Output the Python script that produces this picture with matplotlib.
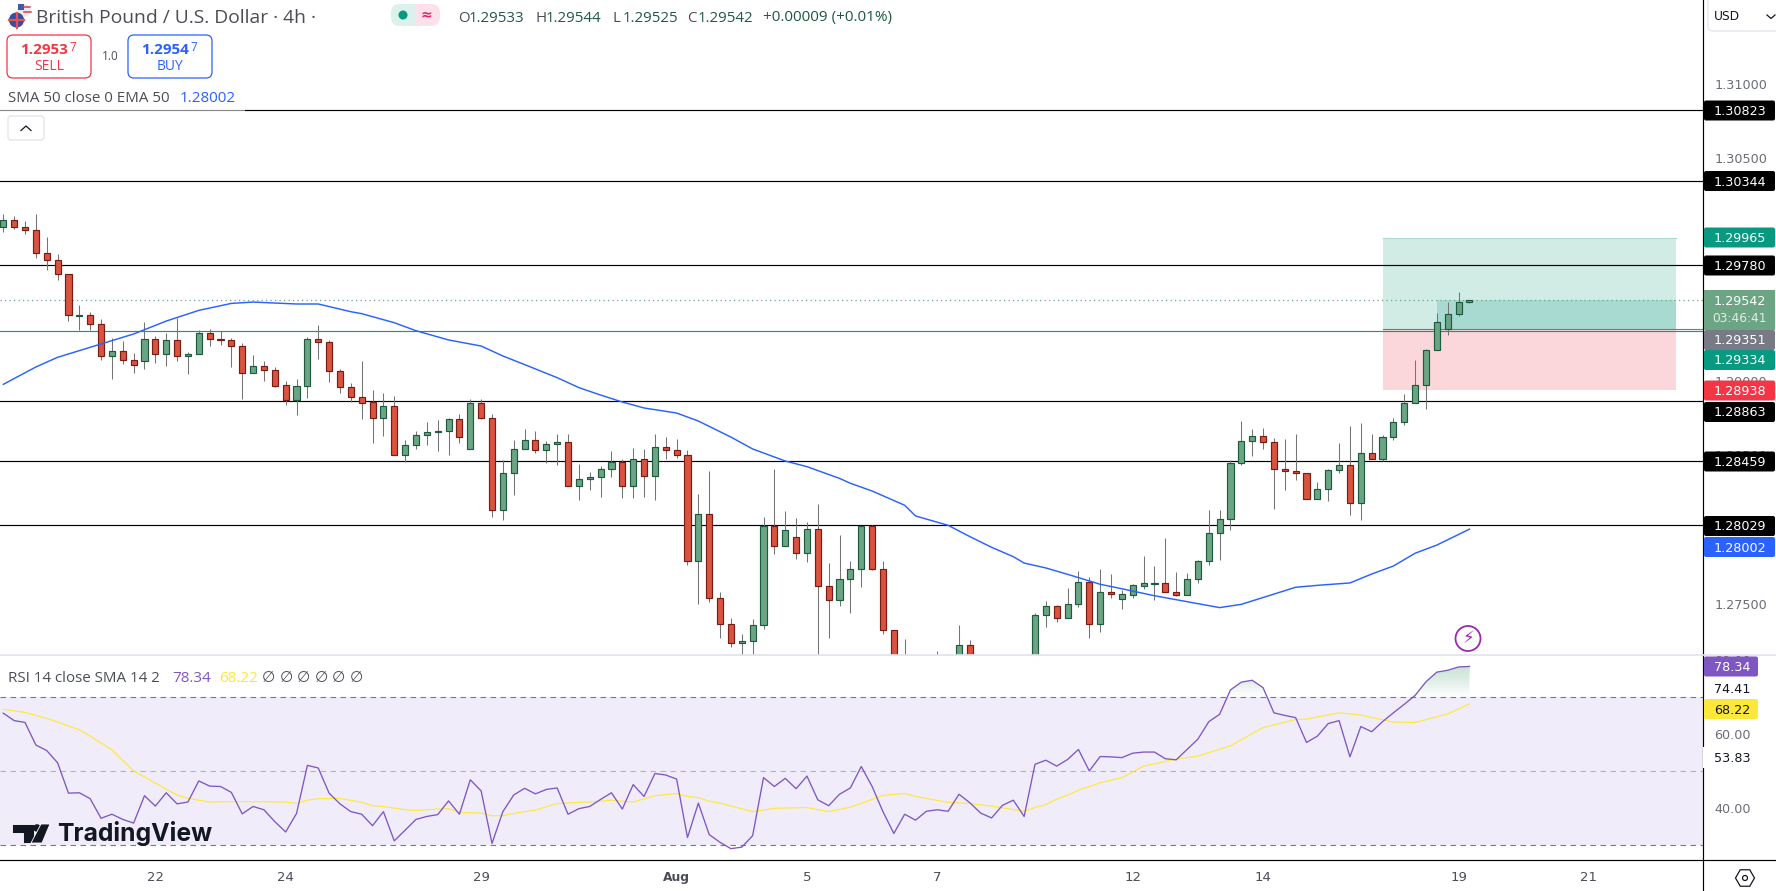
import numpy as np
import matplotlib
matplotlib.use('Agg')
import matplotlib.pyplot as plt
from matplotlib.patches import FancyBboxPatch, Circle, Polygon, RegularPolygon, Rectangle, Ellipse

# candles, in 1e-5 of a dollar (bars hidden below the pane are estimates)
candle_open = [130039, 130086, 130034, 130014, 129859, 129812, 129718, 129439, 129442, 129381, 129166, 129199, 129139, 129132, 129280, 129179, 129273, 129166, 129179, 129320,
               129282, 129273, 129233, 129051, 129098, 129071, 128970, 128869, 128964, 129280, 129260, 129065, 128957, 128890, 128856, 128748, 128829, 128499, 128566, 128634,
               128654, 128661, 128741, 128540, 128849, 128748, 128129, 128378, 128540, 128600, 128533, 128573, 128587, 128290, 128338, 128351, 128405, 128452, 128290, 128472,
               128358, 128553, 128533, 128499, 127786, 128102, 127536, 127361, 127234, 127247, 127355, 128023, 127887, 127947, 127839, 128001, 127617, 127523, 127664, 127732,
               128023, 127732, 127321, 127050, 126950, 127040, 126960, 127090, 127000, 127220, 127000, 126930, 126870, 126970, 127030, 126900, 127422, 127483, 127402, 127496,
               127644, 127366, 127577, 127534, 127561, 127622, 127636, 127638, 127577, 127561, 127665, 127786, 127974, 128068, 128445, 128593, 128627, 128587, 128405, 128391,
               128378, 128203, 128270, 128398, 128432, 128176, 128513, 128472, 128620, 128721, 128849, 128970, 129206, 129347, 129448, 129533]
candle_high = [130124, 130108, 130077, 130124, 129969, 129855, 129718, 129511, 129462, 129417, 129289, 129269, 129188, 129394, 129300, 129320, 129421, 129193, 129341, 129347,
               129334, 129289, 129253, 129172, 129132, 129092, 129000, 129011, 129293, 129377, 129273, 129078, 128984, 129132, 128939, 128917, 128899, 128602, 128661, 128721,
               128737, 128748, 128775, 128876, 128876, 128775, 128466, 128600, 128674, 128661, 128593, 128641, 128641, 128439, 128385, 128425, 128526, 128472, 128546, 128540,
               128641, 128620, 128607, 128533, 128237, 128391, 127577, 127404, 127294, 127395, 128082, 128405, 128124, 128077, 128048, 128172, 127774, 127963, 127788, 128023,
               128030, 127788, 127321, 127260, 127100, 127120, 127184, 127162, 127357, 127256, 127090, 127000, 127010, 127100, 127110, 127440, 127519, 127489, 127606, 127721,
               127680, 127734, 127700, 127595, 127631, 127821, 127754, 127943, 127714, 127707, 127794, 128131, 128131, 128466, 128730, 128676, 128683, 128616, 128609, 128643,
               128378, 128317, 128405, 128582, 128694, 128717, 128643, 128636, 128750, 128912, 129141, 129215, 129455, 129531, 129599, 129544]
candle_low = [130005, 130025, 129991, 129830, 129749, 129682, 129406, 129345, 129345, 129143, 129015, 129116, 129056, 129083, 129123, 129103, 129136, 129049, 129179, 129237,
              129244, 129096, 128881, 129051, 129002, 128957, 128840, 128771, 128887, 129150, 128995, 128921, 128860, 128746, 128584, 128632, 128499, 128457, 128544, 128571,
              128531, 128504, 128584, 128540, 128741, 128086, 128066, 128234, 128540, 128517, 128450, 128436, 128290, 128201, 128268, 128221, 128356, 128214, 128214, 128221,
              128201, 128477, 128484, 127763, 127501, 127514, 127272, 127211, 127032, 127121, 127332, 127837, 127887, 127804, 127783, 127076, 127272, 127487, 127440, 127615,
              127725, 127296, 126950, 126900, 126900, 126900, 126900, 126920, 126950, 126970, 126880, 126820, 126830, 126900, 126880, 126870, 127346, 127380, 127402, 127480,
              127267, 127312, 127541, 127465, 127541, 127601, 127527, 127577, 127554, 127561, 127642, 127763, 127795, 127997, 128436, 128497, 128544, 128140, 128268, 128335,
              128203, 128203, 128194, 128382, 128100, 128064, 128472, 128459, 128605, 128706, 128849, 128813, 129206, 129311, 129439, 129525]
candle_close = [130086, 130034, 130014, 129859, 129812, 129718, 129442, 129442, 129381, 129166, 129199, 129139, 129105, 129280, 129179, 129273, 129166, 129179, 129320, 129280,
                129278, 129233, 129051, 129098, 129071, 128968, 128869, 128964, 129280, 129260, 129065, 128957, 128890, 128854, 128748, 128829, 128499, 128566, 128634, 128654,
                128661, 128741, 128620, 128849, 128748, 128129, 128378, 128540, 128600, 128533, 128573, 128587, 128290, 128338, 128351, 128405, 128452, 128290, 128472, 128358,
                128553, 128533, 128499, 127786, 128102, 127536, 127361, 127234, 127247, 127355, 128023, 127887, 127994, 127839, 128001, 127617, 127523, 127664, 127732, 128023,
                127732, 127321, 127050, 126950, 127050, 126960, 127080, 127000, 127220, 127000, 126930, 126870, 126970, 127030, 126900, 127422, 127483, 127402, 127496, 127644,
                127366, 127577, 127568, 127564, 127624, 127638, 127638, 127577, 127561, 127665, 127786, 127974, 128068, 128445, 128593, 128627, 128587, 128405, 128391, 128378,
                128203, 128270, 128398, 128432, 128176, 128513, 128472, 128620, 128721, 128849, 128970, 129206, 129395, 129448, 129529, 129542]

# EMA 50, bar index and price
ema_bar = [0, 3, 5, 7, 9, 12, 15, 18, 21, 23, 27, 29, 32, 33, 36, 38, 41, 44, 46, 48, 51, 53, 55, 57, 59, 62, 64, 67, 69, 72, 74, 77, 78, 80, 83, 84, 87, 89, 91, 93, 94, 96, 98, 99, 101, 103,
           106, 109, 112, 114, 119, 121, 124, 126, 128, 130, 132, 135]
ema_value = [128977, 129094, 129159, 129204, 129249, 129316, 129403, 129475, 129522, 129531, 129518, 129518, 129466, 129453, 129392, 129338, 129276, 129235, 129168, 129110, 129022, 128955, 128905, 128858, 128818, 128784, 128730, 128622, 128542, 128461, 128423, 128344, 128311, 128259, 128163, 128091, 128028, 127952, 127880, 127817, 127774, 127741, 127698, 127676, 127631, 127601,
             127554, 127514, 127474, 127496, 127611, 127624, 127640, 127700, 127754, 127840, 127895, 128002]

rsi_value = [65.7, 63.7, 63.2, 57.1, 55.6, 52.3, 44.1, 44.2, 42.6, 37.3, 38.4, 37.0, 36.0, 43.4, 40.6, 44.2, 41.2, 41.7, 47.4, 46.0,
             45.9, 44.3, 38.5, 40.5, 39.6, 36.4, 33.6, 38.6, 51.6, 50.9, 44.1, 41.2, 39.1, 38.4, 35.3, 39.1, 31.2, 34.1, 37.0, 37.8,
             38.3, 42.0, 38.4, 47.7, 44.7, 30.5, 39.1, 43.6, 45.4, 43.9, 45.1, 45.5, 38.4, 39.9, 40.5, 42.4, 44.2, 39.8, 46.4, 43.2,
             49.4, 49.0, 47.9, 32.1, 41.4, 32.9, 30.8, 29.1, 29.5, 32.6, 48.3, 45.9, 48.1, 45.3, 48.7, 42.3, 40.7, 43.8, 45.5, 51.3,
             45.9, 39.1, 33.2, 38.4, 36.8, 39.2, 39.6, 39.2, 43.8, 41.5, 38.7, 37.4, 40.8, 42.2, 37.8, 51.9, 53.0, 51.4, 53.2, 55.9,
             50.1, 54.0, 53.9, 53.7, 54.9, 55.2, 55.2, 53.4, 53.1, 55.9, 58.7, 63.4, 65.4, 72.0, 74.1, 74.6, 72.6, 65.8, 65.1, 64.5,
             57.8, 59.5, 62.9, 63.7, 53.9, 62.1, 60.7, 63.4, 65.8, 68.1, 70.5, 74.2, 76.8, 77.3, 78.2, 78.34]

# RSI moving average, bar index and value
rsi_ma_bar = [0, 2, 4, 5, 7, 8, 10, 12, 14, 16, 17, 19, 21, 23, 26, 27, 28, 29, 31, 33, 34, 35, 37, 38, 40, 41, 42, 44, 45, 46, 47, 48, 49, 51, 53, 54, 56, 58, 60, 62, 63, 64, 65, 66, 69, 71, 74, 76, 78, 80, 81, 83, 84, 87, 89, 91, 94, 95, 96, 97, 98, 99, 101, 103, 105, 108, 110, 113, 116, 119, 120, 123, 125, 128, 130, 133, 135]
rsi_ma_value = [66.8, 65.9, 64.3, 63.3, 61.2, 59.5, 55.8, 50.1, 46.8, 43.6, 42.7, 41.7, 41.8, 41.8, 41.7, 41.3, 42.2, 42.6, 42.7, 41.6, 40.7, 40.5, 39.6, 39.4, 39.8, 39.9, 38.9, 38.7, 38.0, 38.0, 38.6, 39.1, 39.5, 41.3, 41.6, 41.7, 42.2, 41.7, 43.4, 44.0, 43.2, 42.9, 41.9, 41.4, 39.1, 40.0, 40.2, 39.1, 40.3, 42.4, 43.5, 44.0, 43.2, 41.6, 41.3, 40.6, 39.2, 40.2, 41.0, 42.5, 43.5, 44.9, 46.9, 48.3, 51.4, 53.3, 54.1, 56.9, 61.8, 64.0, 64.1, 65.8, 65.2, 63.3, 63.2, 65.5, 68.22]

level_prices = [1.30823, 1.30344, 1.29780, 1.28863, 1.28459, 1.28029]
last_price = 1.29542
entry_price = 1.29351
stop_price = 1.28938
target_price = 1.29965
support_line = 1.29334
rsi_levels = [70, 50, 30]
price_ticks = [1.275, 1.285, 1.29, 1.305, 1.31]
rsi_ticks = [40, 60, 80]
time_tick_bars = [14, 26, 44, 62, 74, 86, 104, 116, 134, 146]
time_tick_labels = ['22', '24', '29', 'Aug', '5', '7', '12', '14', '19', '21']
ohlc_parts = [('O', '1.29533'), ('H', '1.29544'), ('L', '1.29525'), ('C', '1.29542')]

GREEN = '#6ba584'
GREEN_EDGE = '#1d5a3e'
RED = '#d9533f'
RED_EDGE = '#7a1c14'
GREY = '#787b86'
TEXT = '#4a4d57'
W, H = 1776, 891


# Axes rectangle from pixel edges (y counted from the top)
def pixel_axes(left, top, right, bottom):
    return fig.add_axes([left / W, 1 - bottom / H, (right - left) / W, (bottom - top) / H])


fig = plt.figure(figsize=(W / 100, H / 100), dpi=100, facecolor='white')

# price pane
ax = pixel_axes(0, 0, 1703, 655)
ax.set_xlim(-0.304, 156.51)
ax.set_ylim(1.27155, 1.315645)

bars = np.arange(len(candle_open))
o = np.array(candle_open) / 1e5
h = np.array(candle_high) / 1e5
l = np.array(candle_low) / 1e5
c = np.array(candle_close) / 1e5
up = c >= o

for level in level_prices:
    ax.axhline(level, color='black', lw=0.85, zorder=2)
ax.axhline(last_price, color=GREEN, lw=0.9, ls=(0, (1, 2.6)), zorder=2)

# long position tool
ax.fill_between([127, 154], entry_price, target_price, color='#d1ebe5', lw=0, zorder=1)
ax.fill_between([127, 154], stop_price, entry_price, color='#fbd7db', lw=0, zorder=1)
ax.fill_between([132, 154], entry_price, last_price, color='#a8dad2', lw=0, zorder=1.1)
ax.plot([127, 154], [target_price, target_price], color='#a8dad2', lw=0.8, zorder=1.2)
ax.plot([127, 156.51], [entry_price, entry_price], color=GREY, lw=0.8, zorder=2.2)
ax.axhline(support_line, color='#26917c', lw=0.85, zorder=2.1)

ax.vlines(bars, l, h, color='#747474', lw=0.75, zorder=3)
ax.bar(bars[up], np.maximum((c - o)[up], 0.00003), bottom=o[up], width=0.56, color=GREEN, edgecolor=GREEN_EDGE, lw=0.85, zorder=4)
ax.bar(bars[~up], np.maximum((o - c)[~up], 0.00003), bottom=c[~up], width=0.56, color=RED, edgecolor=RED_EDGE, lw=0.85, zorder=4)
ax.plot(ema_bar, np.array(ema_value) / 1e5, color='#2962ff', lw=1.05, zorder=5)

ax.yaxis.tick_right()
ax.set_yticks(price_ticks)
ax.set_yticklabels(['{:.5f}'.format(t) for t in price_ticks], color='#6a6d78', fontsize=9.2)
ax.tick_params(axis='y', length=0, pad=8)
ax.set_xticks([])
for spine in ax.spines.values():
    spine.set_visible(False)

# RSI pane
rsi_ax = pixel_axes(0, 655, 1703, 860)
rsi_ax.set_xlim(-0.304, 156.51)
rsi_ax.set_ylim(26.03, 81.43)
rsi_ax.axhspan(30, 70, color='#f0ecf9', lw=0, zorder=0)
rsi_ax.axhline(rsi_levels[0], color=GREY, lw=0.8, ls=(0, (5, 4)), zorder=1)
rsi_ax.axhline(rsi_levels[1], color='#b5b3bd', lw=0.8, ls=(0, (5, 4)), zorder=1)
rsi_ax.axhline(rsi_levels[2], color=GREY, lw=0.8, ls=(0, (5, 4)), zorder=1)

rsi = np.array(rsi_value)
# overbought glow, layered so it fades out towards the 70 line
for floor in np.arange(70.5, 79, 1.0):
    rsi_ax.fill_between(bars, floor, rsi, where=rsi > floor, interpolate=True, color='#3c9f6e', alpha=0.035, lw=0, zorder=1.5)
rsi_ax.plot(rsi_ma_bar, rsi_ma_value, color='#ffe93b', lw=0.85, zorder=2)
rsi_ax.plot(bars, rsi, color='#7e57c2', lw=0.95, zorder=3)

rsi_ax.yaxis.tick_right()
rsi_ax.set_yticks(rsi_ticks)
rsi_ax.set_yticklabels(['{:.2f}'.format(t) for t in rsi_ticks], color='#6a6d78', fontsize=9.2)
rsi_ax.tick_params(axis='y', length=0, pad=8)
rsi_ax.set_xticks(time_tick_bars)
rsi_ax.set_xticklabels(time_tick_labels, color=TEXT, fontsize=9.5)
rsi_ax.tick_params(axis='x', length=0, pad=8)
rsi_ax.get_xticklabels()[3].set_fontweight('bold')
rsi_ax.get_xticklabels()[3].set_fontsize(8.8)
for spine in rsi_ax.spines.values():
    spine.set_visible(False)

# everything that sits on top of the chart, in screen pixels
ui = fig.add_axes([0, 0, 1, 1], zorder=10)
ui.set_xlim(0, W)
ui.set_ylim(H, 0)
ui.axis('off')

ui.plot([1703, 1703], [0, H], color='black', lw=0.85, zorder=1)
ui.plot([0, W], [860, 860], color='black', lw=0.85, zorder=1)
ui.plot([0, W], [655, 655], color='#e0e3eb', lw=1.2, zorder=1)


# coloured price tag on the axis
def price_tag(y, label, color, text_color='white', height=20, right=1775):
    box = FancyBboxPatch((1704, y - height / 2), right - 1704, height,
                         boxstyle='round,pad=0,rounding_size=2', fc=color, ec='none', zorder=3)
    ui.add_patch(box)
    ui.text(1739.5 if right == 1775 else 1732, y + 1, label, color=text_color, fontsize=9.2,
            ha='center', va='center', zorder=4, family='DejaVu Sans')


for y, label, color in [(110.5, '1.30823', 'black'), (181, '1.30344', 'black'), (237.5, '1.29965', '#089981'),
                        (265.5, '1.29780', 'black'), (340, '1.29351', GREY), (360, '1.29334', '#089981'),
                        (390.5, '1.28938', '#f23645'), (412, '1.28863', 'black'), (461.5, '1.28459', 'black'),
                        (526, '1.28029', 'black'), (547, '1.28002', '#2962ff')]:
    price_tag(y, label, color)

ui.add_patch(Rectangle((1704, 290), 71, 39.5, fc=GREEN, ec='none', zorder=3))
ui.text(1739.5, 301.5, '1.29542', color='white', fontsize=9.2, ha='center', va='center', zorder=4)
ui.text(1739.5, 319, '03:46:41', color='#dfeee6', fontsize=8.8, ha='center', va='center', zorder=4)

price_tag(666.5, '78.34', '#7e57c2', right=1758)
price_tag(709, '68.22', '#fde73a', text_color='#131722', right=1758)
ui.add_patch(Rectangle((1703, 747), 54, 21, fc='white', ec='none', zorder=2))
ui.text(1732, 758, '53.83', color='#131722', fontsize=9.2, ha='center', va='center', zorder=4)
ui.text(1732, 689.5, '74.41', color='#131722', fontsize=9.2, ha='center', va='center', zorder=4)

# currency button
ui.add_patch(FancyBboxPatch((1708, -4), 80, 35, boxstyle='round,pad=0,rounding_size=5', fc='white', ec='#e0e3eb', lw=0.9, zorder=3))
ui.text(1714, 16, 'USD', color='#131722', fontsize=8.8, va='center', zorder=4)
ui.plot([1767, 1771, 1775], [15, 18.5, 15], color='#131722', lw=0.9, zorder=4)

# settings icon
ui.add_patch(RegularPolygon((1745, 878), 6, radius=9.5, orientation=np.pi / 2, fc='none', ec='#131722', lw=0.9, zorder=4))
ui.add_patch(Circle((1745, 878), 2.5, fc='none', ec='#131722', lw=0.9, zorder=4))

# header: flag, title, market status
ui.add_patch(Circle((24, 10.5), 6.5, fc='#e8e8ee', ec='none', zorder=3))
ui.add_patch(Rectangle((18, 4), 6, 6, fc='#3d5aa8', ec='none', zorder=3))
ui.plot([24, 30], [7, 7], color='#d6404b', lw=1.1, zorder=4)
ui.plot([24, 30.5], [12, 12], color='#d6404b', lw=1.1, zorder=4)
ui.add_patch(Circle((16.5, 20), 8, fc='#34509e', ec='white', lw=0.6, zorder=4))
ui.plot([9, 24], [20, 20], color='#e8505b', lw=1.6, zorder=5)
ui.plot([16.5, 16.5], [12.5, 27.5], color='#e8505b', lw=1.6, zorder=5)

ui.text(36, 18, 'British Pound / U.S. Dollar · 4h ·', color=TEXT, fontsize=13.9, va='center', family='Open Sans')

ui.add_patch(FancyBboxPatch((391, 4), 24, 22, boxstyle='round,pad=0,rounding_size=9', fc='#daf1ec', ec='none', zorder=3))
ui.add_patch(FancyBboxPatch((416, 4), 24, 22, boxstyle='round,pad=0,rounding_size=9', fc='#fce1ea', ec='none', zorder=3))
ui.add_patch(Rectangle((405, 4), 10.5, 22, fc='#daf1ec', ec='none', zorder=3))
ui.add_patch(Rectangle((415.5, 4), 10.5, 22, fc='#fce1ea', ec='none', zorder=3))
ui.add_patch(Ellipse((403, 15), 9, 9, fc='#089981', ec='none', zorder=4))
ui.text(426, 14.5, '≈', color='#e91e63', fontsize=10, fontweight='bold', ha='center', va='center', zorder=4, family='DejaVu Sans')

# O H L C readout
for (letter, value), x in zip(ohlc_parts, [458, 535, 612, 687]):
    ui.text(x, 18, letter, color=TEXT, fontsize=10.8, va='center', family='Open Sans')
    ui.text(x + 11, 18, value, color=GREEN_EDGE, fontsize=10.8, va='center', family='Open Sans')
ui.text(763, 18, '+0.00009 (+0.01%)', color=GREEN_EDGE, fontsize=11, va='center', family='Open Sans')

# sell and buy buttons
for left, edge, price, tail, action in [(7, '#f23645', '1.2953', '7', 'SELL'), (128, '#2962ff', '1.2954', '7', 'BUY')]:
    ui.add_patch(FancyBboxPatch((left, 35), 84, 43, boxstyle='round,pad=0,rounding_size=6', fc='white', ec=edge, lw=0.9, zorder=3))
    ui.text(left + 13, 50, price, color=edge, fontsize=11, fontweight='bold', va='center', zorder=4, family='Open Sans')
    ui.text(left + 62, 47.5, tail, color=edge, fontsize=8.5, va='center', zorder=4, family='Open Sans')
    ui.text(left + 42, 66.5, action, color=edge, fontsize=10, ha='center', va='center', zorder=4, family='Open Sans')
ui.text(110, 56, '1.0', color=TEXT, fontsize=8.5, ha='center', va='center', family='Open Sans')

# indicator legends
ui.add_patch(Rectangle((0, 88), 245, 23.5, fc='white', ec='none', alpha=0.55, zorder=2))
ui.text(8, 99, 'SMA 50 close 0 EMA 50', color=TEXT, fontsize=10.9, va='center', zorder=4, family='Open Sans')
ui.text(180, 99, '1.28002', color='#2962ff', fontsize=11, va='center', zorder=4, family='Open Sans')
ui.add_patch(FancyBboxPatch((8, 116), 36, 24, boxstyle='round,pad=0,rounding_size=3', fc='white', ec='#e0e3eb', lw=0.9, zorder=3))
ui.plot([21, 26, 31], [130.5, 126, 130.5], color='#131722', lw=0.9, zorder=4)

ui.text(8, 678, 'RSI 14 close SMA 14 2', color=TEXT, fontsize=10.9, va='center', zorder=4, family='Open Sans')
ui.text(172, 678, '78.34', color='#7e57c2', fontsize=11, va='center', zorder=4, family='Open Sans')
ui.text(219, 678, '68.22', color='#fde73a', fontsize=11, va='center', zorder=4, family='Open Sans')
for x in [268, 286, 303, 321, 338, 356]:
    ui.text(x, 677, '∅', color=TEXT, fontsize=11, ha='center', va='center', zorder=4, family='DejaVu Sans')

# news flash marker
ui.add_patch(Circle((1468, 638.5), 12.5, fc='white', ec='#9c27b0', lw=1.3, zorder=4))
ui.text(1468, 638.5, '⚡', color='#9c27b0', fontsize=12, ha='center', va='center', zorder=5, family='DejaVu Sans')

# TradingView watermark
ui.add_patch(Polygon([(12, 824), (34, 824), (34, 843), (23, 843), (23, 833), (12, 833)], fc='#131722', ec='white', lw=0.6, zorder=4))
ui.add_patch(Circle((37, 828), 3.8, fc='#131722', ec='none', zorder=4))
ui.add_patch(Polygon([(41, 824), (50, 824), (42, 843), (31, 843)], fc='#131722', ec='white', lw=0.6, zorder=4))
ui.text(57, 834, 'TradingView', color='#131722', fontsize=17.8, fontweight='bold', va='center', zorder=4, family='Inter')

fig.savefig('out.png', dpi=100)
